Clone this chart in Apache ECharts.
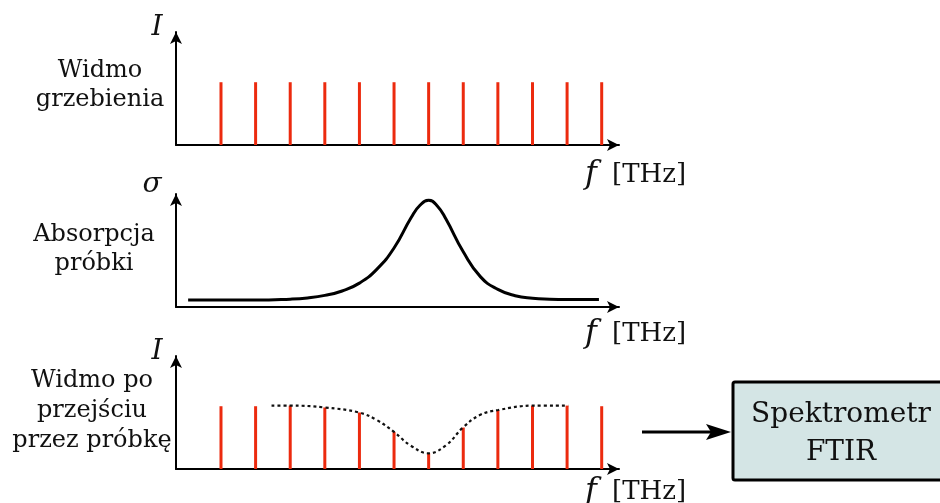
<!DOCTYPE html>
<html>
<head>
<meta charset="utf-8">
<script src="https://cdn.jsdelivr.net/npm/echarts@6/dist/echarts.min.js"></script>
<style>
    html, body { margin: 0; padding: 0; background: #ffffff; }
    #chart { width: 940px; height: 503px; }
</style>
</head>
<body>
<div id="chart"></div>
<script>
// Comb lines (frequency index) and their heights
const combFreqs = [1, 2, 3, 4, 5, 6, 7, 8, 9, 10, 11, 12];
const combLevels = [1, 1, 1, 1, 1, 1, 1, 1, 1, 1, 1, 1];
const transmittedLevels = [1.0, 1.0, 1.01, 0.98, 0.90, 0.59, 0.25, 0.66, 0.94, 1.01, 1.01, 1.0];

// Sample absorption curve
const absorptionX = [0.05, 2.0, 3.0, 3.5, 4.0, 4.5, 5.0, 5.5, 6.0, 6.5, 6.75, 7.0, 7.25, 7.5, 8.0, 8.5, 9.0, 9.5, 10.0, 10.5, 11.0, 11.92];
const absorptionY = [0.11, 0.11, 0.125, 0.145, 0.185, 0.255, 0.38, 0.60, 0.94, 1.43, 1.62, 1.70, 1.61, 1.40, 0.88, 0.48, 0.28, 0.18, 0.14, 0.125, 0.12, 0.12];

// Dotted envelope over the transmitted comb
const envelopeX = [2.46, 2.99, 4.0, 4.99, 5.5, 6.0, 6.46, 7.0, 7.51, 7.99, 8.48, 9.01, 10.02, 11.03];
const envelopeY = [1.01, 1.01, 0.98, 0.90, 0.78, 0.59, 0.38, 0.25, 0.38, 0.66, 0.86, 0.94, 1.01, 1.01];

const SERIF = '"DejaVu Serif", serif';
const RED = '#ec2a0e';

function zip(xs, ys) {
    return xs.map((x, i) => [x, ys[i]]);
}

function makeXAxis(gridIndex) {
    return {
        type: 'value', gridIndex: gridIndex, min: -0.3, max: 12.5,
        axisLine: { onZero: false, symbol: ['none', 'arrow'], symbolSize: [9, 12], lineStyle: { color: '#000', width: 2 } },
        axisTick: { show: false }, axisLabel: { show: false }, splitLine: { show: false }
    };
}

function makeYAxis(gridIndex) {
    return {
        type: 'value', gridIndex: gridIndex, min: 0, max: 1.8,
        axisLine: { show: true, onZero: false, symbol: ['none', 'arrow'], symbolSize: [9, 12], lineStyle: { color: '#000', width: 2 } },
        axisTick: { show: false }, axisLabel: { show: false }, splitLine: { show: false }
    };
}

function label(x, y, text, size, lineHeight) {
    return {
        type: 'text', x: x, y: y,
        style: {
            text: text, fill: '#111', font: size + 'px ' + SERIF,
            lineHeight: lineHeight || size, align: 'center', verticalAlign: 'middle'
        }
    };
}

function symbolLabel(x, y, text) {
    return {
        type: 'text', x: x, y: y,
        style: { text: text, fill: '#111', font: 'italic 28px ' + SERIF, align: 'center', verticalAlign: 'middle' }
    };
}

function freqLabel(x, y) {
    return {
        type: 'text', x: x, y: y,
        style: {
            text: '{i|f} [THz]', fill: '#111', font: '26px ' + SERIF,
            align: 'left', verticalAlign: 'middle',
            rich: { i: { fontStyle: 'italic', fontSize: 32, fontFamily: SERIF, fill: '#111', padding: [0, 7, 0, 0] } }
        }
    };
}

const chart = echarts.init(document.getElementById('chart'));

chart.setOption({
    animation: false,
    backgroundColor: '#ffffff',
    grid: [
        { left: 176, right: 321, top: 32, height: 113 },
        { left: 176, right: 321, top: 194, height: 113 },
        { left: 176, right: 321, top: 356, height: 113 }
    ],
    xAxis: [makeXAxis(0), makeXAxis(1), makeXAxis(2)],
    yAxis: [makeYAxis(0), makeYAxis(1), makeYAxis(2)],
    series: [
        {
            type: 'bar', xAxisIndex: 0, yAxisIndex: 0, barWidth: 3,
            itemStyle: { color: RED },
            data: zip(combFreqs, combLevels)
        },
        {
            type: 'line', xAxisIndex: 1, yAxisIndex: 1, smooth: 0.5, showSymbol: false,
            lineStyle: { color: '#000', width: 3 },
            data: zip(absorptionX, absorptionY)
        },
        {
            type: 'bar', xAxisIndex: 2, yAxisIndex: 2, barWidth: 3,
            itemStyle: { color: RED },
            data: zip(combFreqs, transmittedLevels)
        },
        {
            type: 'line', xAxisIndex: 2, yAxisIndex: 2, smooth: 0.4, showSymbol: false, z: 3,
            lineStyle: { color: '#111', width: 2.2, type: [3, 3] },
            data: zip(envelopeX, envelopeY)
        }
    ],
    graphic: [
        symbolLabel(157, 28, 'I'),
        label(100, 85, 'Widmo\ngrzebienia', 24, 29),
        freqLabel(585, 175),

        symbolLabel(152, 185, 'σ'),
        label(94, 249, 'Absorpcja\npróbki', 24, 29),
        freqLabel(585, 334),

        symbolLabel(157, 352, 'I'),
        label(92, 411, 'Widmo po\nprzejściu\nprzez próbkę', 24, 30),
        freqLabel(585, 492),

        // arrow to spectrometer
        { type: 'line', shape: { x1: 642, y1: 432, x2: 714, y2: 432 }, style: { stroke: '#000', lineWidth: 3 } },
        { type: 'polygon', shape: { points: [[706, 424], [731, 432], [706, 440], [711, 432]] }, style: { fill: '#000' } },

        // spectrometer box
        { type: 'rect', shape: { x: 733, y: 382, width: 220, height: 98, r: 2 }, style: { fill: '#d4e5e5', stroke: '#000', lineWidth: 3 } },
        label(841, 434, 'Spektrometr\nFTIR', 28, 38)
    ]
});
</script>
</body>
</html>
